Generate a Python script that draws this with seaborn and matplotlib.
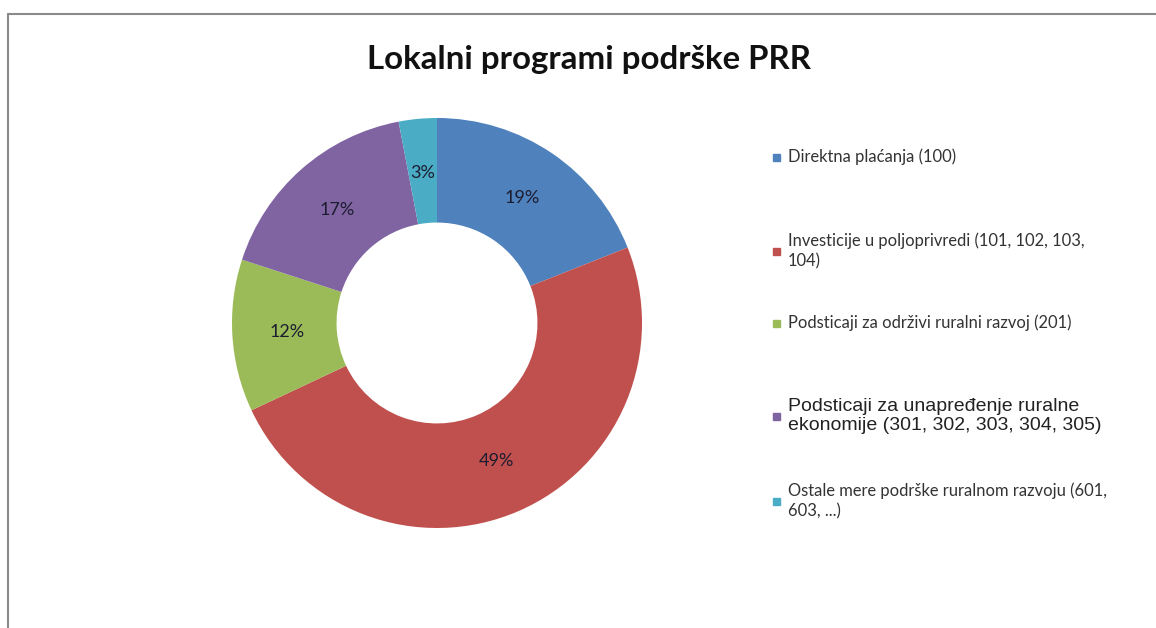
import pandas as pd
import seaborn as sns
from matplotlib import pyplot as plt
from matplotlib.patches import Rectangle
from matplotlib.lines import Line2D

categories = [
    "Direktna plaćanja (100)",
    "Investicije u poljoprivredi (101, 102, 103,\n104)",
    "Podsticaji za održivi ruralni razvoj (201)",
    "Podsticaji za unapređenje ruralne\nekonomije (301, 302, 303, 304, 305)",
    "Ostale mere podrške ruralnom razvoju (601,\n603, ...)",
]
shares = [19, 49, 12, 17, 3]
colors = ["#4F81BD", "#C0504D", "#9BBB59", "#8064A2", "#4BACC6"]

title = "Lokalni programi podrške PRR"


def drawDonut(ax, df):
    wedges, texts, autotexts = ax.pie(
        df["share"], colors=sns.color_palette(colors), startangle=90,
        counterclock=False, autopct="%d%%", pctdistance=0.735,
        wedgeprops=dict(width=0.51, linewidth=0),
        textprops=dict(family="Lato", fontsize=13, color="#1c1c30"))
    ax.set_aspect("auto")
    ax.set_xlim(-1, 1)
    ax.set_ylim(-1, 1)
    ax.axis("off")
    return wedges


def drawLegend(fig, df):
    # excel keeps its own uneven spacing, so every entry is placed by hand
    ys = [157, 251, 323, 416, 501]
    for i, row in df.iterrows():
        y = 1 - ys[i] / 628
        fig.patches.append(Rectangle((773 / 1156, y - 4 / 628), 7 / 1156, 7 / 628,
                                     transform=fig.transFigure, color=row["color"]))
        if i == 3:
            fig.text(788 / 1156, y, row["cat"], family="Liberation Sans", fontsize=14,
                     va="center", ha="left", color="#222222", linespacing=1.18)
        else:
            fig.text(788 / 1156, y, row["cat"], family="Lato", fontsize=11.9,
                     va="center", ha="left", color="#333333", linespacing=1.33)


if __name__ == '__main__':
    sns.set_theme(style="white")
    df = pd.DataFrame({"cat": categories, "share": shares, "color": colors})

    fig = plt.figure(figsize=(11.56, 6.28), dpi=100)
    ax = fig.add_axes([232 / 1156, 100 / 628, 410 / 1156, 410 / 628])
    drawDonut(ax, df)
    drawLegend(fig, df)

    fig.text(589 / 1156, 1 - 60 / 628, title, family="Lato", fontweight="bold",
             fontsize=23.8, ha="center", va="center", color="#111111")

    # frame of the chart area (only top and left visible in the source)
    fig.add_artist(Line2D([8 / 1156, 1], [1 - 14 / 628] * 2, transform=fig.transFigure,
                          color="#8a8a8a", linewidth=1.5))
    fig.add_artist(Line2D([8 / 1156] * 2, [0, 1 - 14 / 628], transform=fig.transFigure,
                          color="#8a8a8a", linewidth=1.5))

    fig.savefig("out.png", dpi=100, facecolor="white")
